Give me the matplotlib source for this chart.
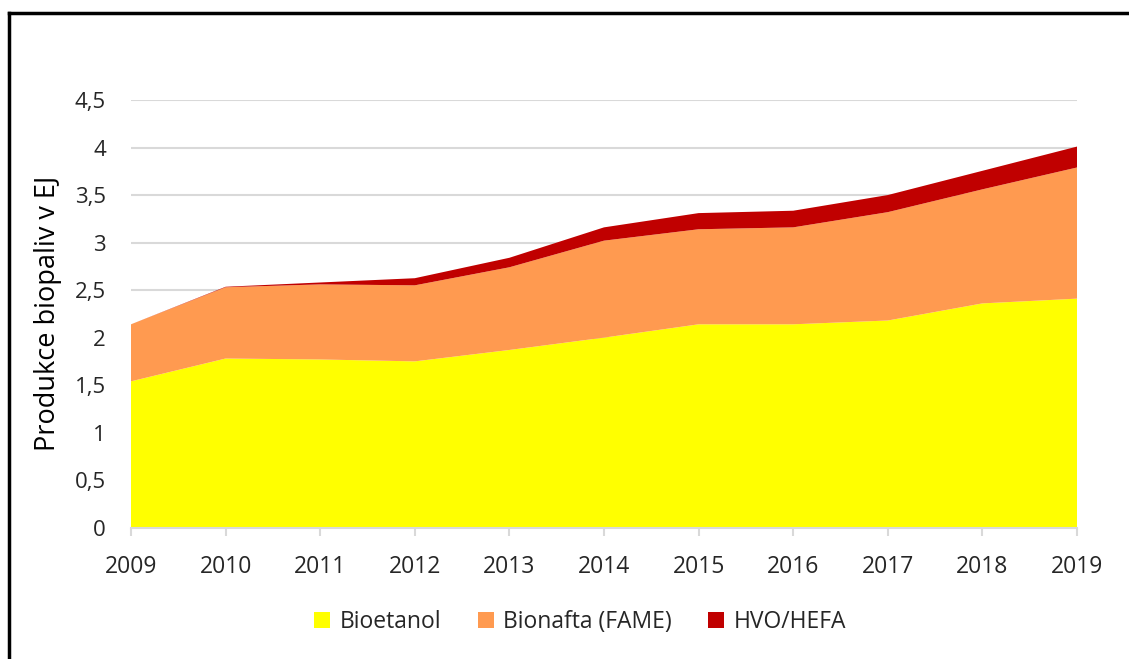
import matplotlib
matplotlib.use("Agg")
import matplotlib.pyplot as plt
from matplotlib.lines import Line2D
from matplotlib.patches import Patch
import numpy as np

years = [2009, 2010, 2011, 2012, 2013, 2014, 2015, 2016, 2017, 2018, 2019]
bioetanol = [1.54, 1.78, 1.77, 1.75, 1.87, 2.00, 2.14, 2.14, 2.18, 2.36, 2.41]
fame = [0.60, 0.75, 0.79, 0.80, 0.87, 1.02, 1.00, 1.02, 1.14, 1.20, 1.38]
hvo = [0.00, 0.005, 0.02, 0.075, 0.10, 0.14, 0.17, 0.175, 0.18, 0.195, 0.22]
labels = ["Bioetanol", "Bionafta (FAME)", "HVO/HEFA"]
colors = ["#FFFF00", "#FF9A50", "#C00000"]
yticks = [0, 0.5, 1, 1.5, 2, 2.5, 3, 3.5, 4, 4.5]
ytick_labels = ["0", "0,5", "1", "1,5", "2", "2,5", "3", "3,5", "4", "4,5"]

plt.rcParams['font.family'] = ['Open Sans', 'DejaVu Sans']

fig = plt.figure(figsize=(11.29, 6.59), dpi=100)
ax = fig.add_axes([131/1129, 1 - 527.7/659, (1077 - 131)/1129, (527.7 - 100)/659])

ax.stackplot(years, bioetanol, fame, hvo, colors=colors, linewidth=0, zorder=2)
ax.set_xlim(2009, 2019)
ax.set_ylim(0, 4.5)
ax.set_yticks(yticks)
ax.set_yticklabels(ytick_labels)
ax.set_xticks(years)
ax.set_xticklabels([str(y) for y in years])
ax.grid(axis='y', color='#d9d9d9', linewidth=1.5, zorder=1)
ax.set_axisbelow(True)
for s in ['top', 'right', 'left']:
    ax.spines[s].set_visible(False)
ax.spines['bottom'].set_color('#d9d9d9')
ax.spines['bottom'].set_linewidth(1.5)
ax.spines['bottom'].set_zorder(3)
ax.tick_params(axis='y', length=0, pad=18, labelsize=16, labelcolor='#262626')
ax.tick_params(axis='x', length=6, width=1.5, color='#d9d9d9', pad=14, labelsize=16.5, labelcolor='#262626')
ax.set_ylabel("Produkce biopaliv v EJ", fontsize=19.5, color='black')
ax.yaxis.set_label_coords((62 - 131) / 946, 0.5)

handles = [Patch(facecolor=c, edgecolor='none') for c in colors]
fig.legend(handles, labels, loc='center', bbox_to_anchor=(580/1129, 1 - 622/659), ncol=3,
           frameon=False, fontsize=16.5, handlelength=0.7, handleheight=0.7,
           columnspacing=1.6, handletextpad=0.4, labelcolor='#262626')

fig.add_artist(Line2D([8.5/1129, 1], [1 - 12.5/659, 1 - 12.5/659], color='black', linewidth=2.5))
fig.add_artist(Line2D([8.5/1129, 8.5/1129], [0, 1 - 12.5/659], color='black', linewidth=2.5))

fig.savefig("out.png", dpi=100, facecolor='white')
